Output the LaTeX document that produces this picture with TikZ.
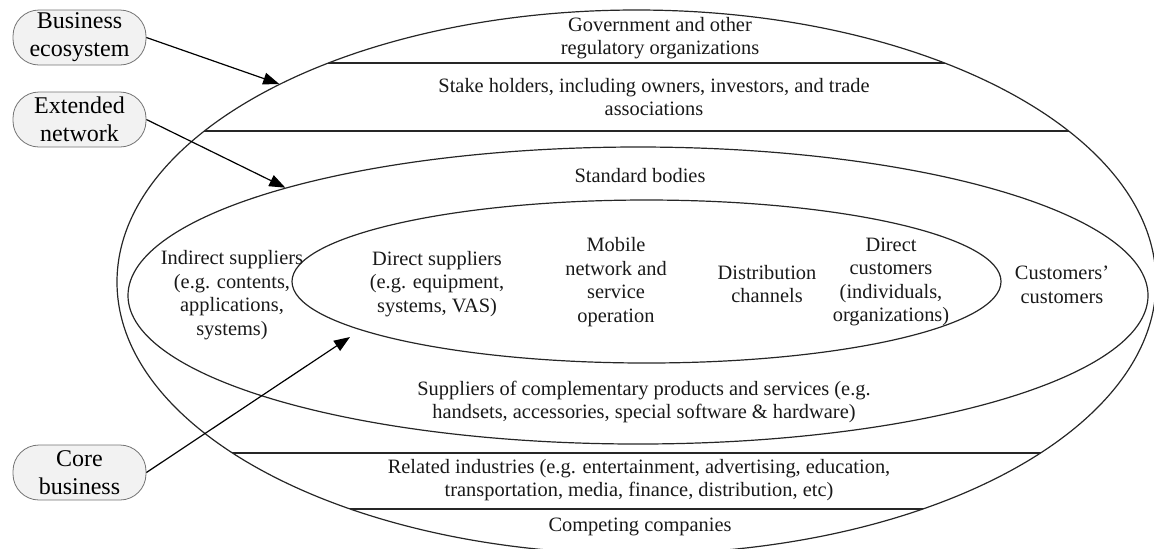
\documentclass[tikz,border=0pt]{standalone}
\usepackage{fontspec}
\setmainfont{Liberation Serif}
\usetikzlibrary{shapes, positioning, arrows.meta}

\begin{document}
\begin{tikzpicture}[x=0.5pt, y=-0.5pt,
        >={Triangle[length=8pt, width=6pt]},
        ring/.style={ellipse, draw=black!85, line width=0.6pt, inner sep=0pt},
        layer/.style={align=center, text=black!90, font=\fontsize{10.2}{11.8}\selectfont},
        tag/.style={draw=black!55, fill=black!5, rounded corners=13pt, align=center,
            minimum width=66.5pt, minimum height=27.5pt, inner sep=0pt,
            font=\fontsize{12}{14}\selectfont}]
        \useasboundingbox (0, 0) rectangle (1154, 548);

        \node[ring, minimum width=519.5pt, minimum height=272pt] (outer) at (636.5, 282) {};
        \node[ring, minimum width=510pt, minimum height=148.5pt] (middle) at (638, 295.5) {};
        \node[ring, minimum width=354.5pt, minimum height=81.5pt] (inner) at (646.5, 281.5) {};

        % bands of the outer ring
        \begin{scope}
            \clip (636.5, 282) ellipse [x radius=259.75pt, y radius=136pt];
            \foreach \y in {63, 131, 453, 509}
                \draw[black!85, line width=0.6pt] (0, \y) -- (1154, \y);
        \end{scope}

        \node[layer] (gov) at (660, 38) {Government and other\\regulatory organizations};
        \node[layer] (stake) at (654, 97) {Stake holders, including owners, investors, and trade\\associations};
        \node[layer] (standard) at (640, 176) {Standard bodies};
        \node[layer] (indirect) at (232, 295) {Indirect suppliers\\(e.g. contents,\\applications,\\systems)};
        \node[layer] (direct) at (437, 284) {Direct suppliers\\(e.g. equipment,\\systems, VAS)};
        \node[layer] (mobile) at (616, 282) {Mobile\\network and\\service\\operation};
        \node[layer] (distrib) at (767, 284) {Distribution\\channels};
        \node[layer] (dcust) at (891, 282) {Direct\\customers\\(individuals,\\organizations)};
        \node[layer] (ccust) at (1062, 285) {Customers'\\customers};
        \node[layer] (compl) at (644, 402) {Suppliers of complementary products and services (e.g.\\handsets, accessories, special software \& hardware)};
        \node[layer] (related) at (639, 480) {Related industries (e.g. entertainment, advertising, education,\\transportation, media, finance, distribution, etc)};
        \node[layer] (compete) at (640, 527) {Competing companies};

        \node[tag] (ecosys) at (79.5, 37.5) {Business\\ecosystem};
        \node[tag] (extnet) at (79.5, 119.5) {Extended\\network};
        \node[tag] (core) at (79.5, 472.5) {Core\\business};
        \coordinate (coretip) at (350, 337);

        \draw[->, line width=0.6pt] (ecosys.east) to (outer.151);
        \draw[->, line width=0.6pt] (extnet.east) to (middle.163);
        \draw[->, line width=0.6pt] (core.east) to (coretip);
\end{tikzpicture}
\end{document}
